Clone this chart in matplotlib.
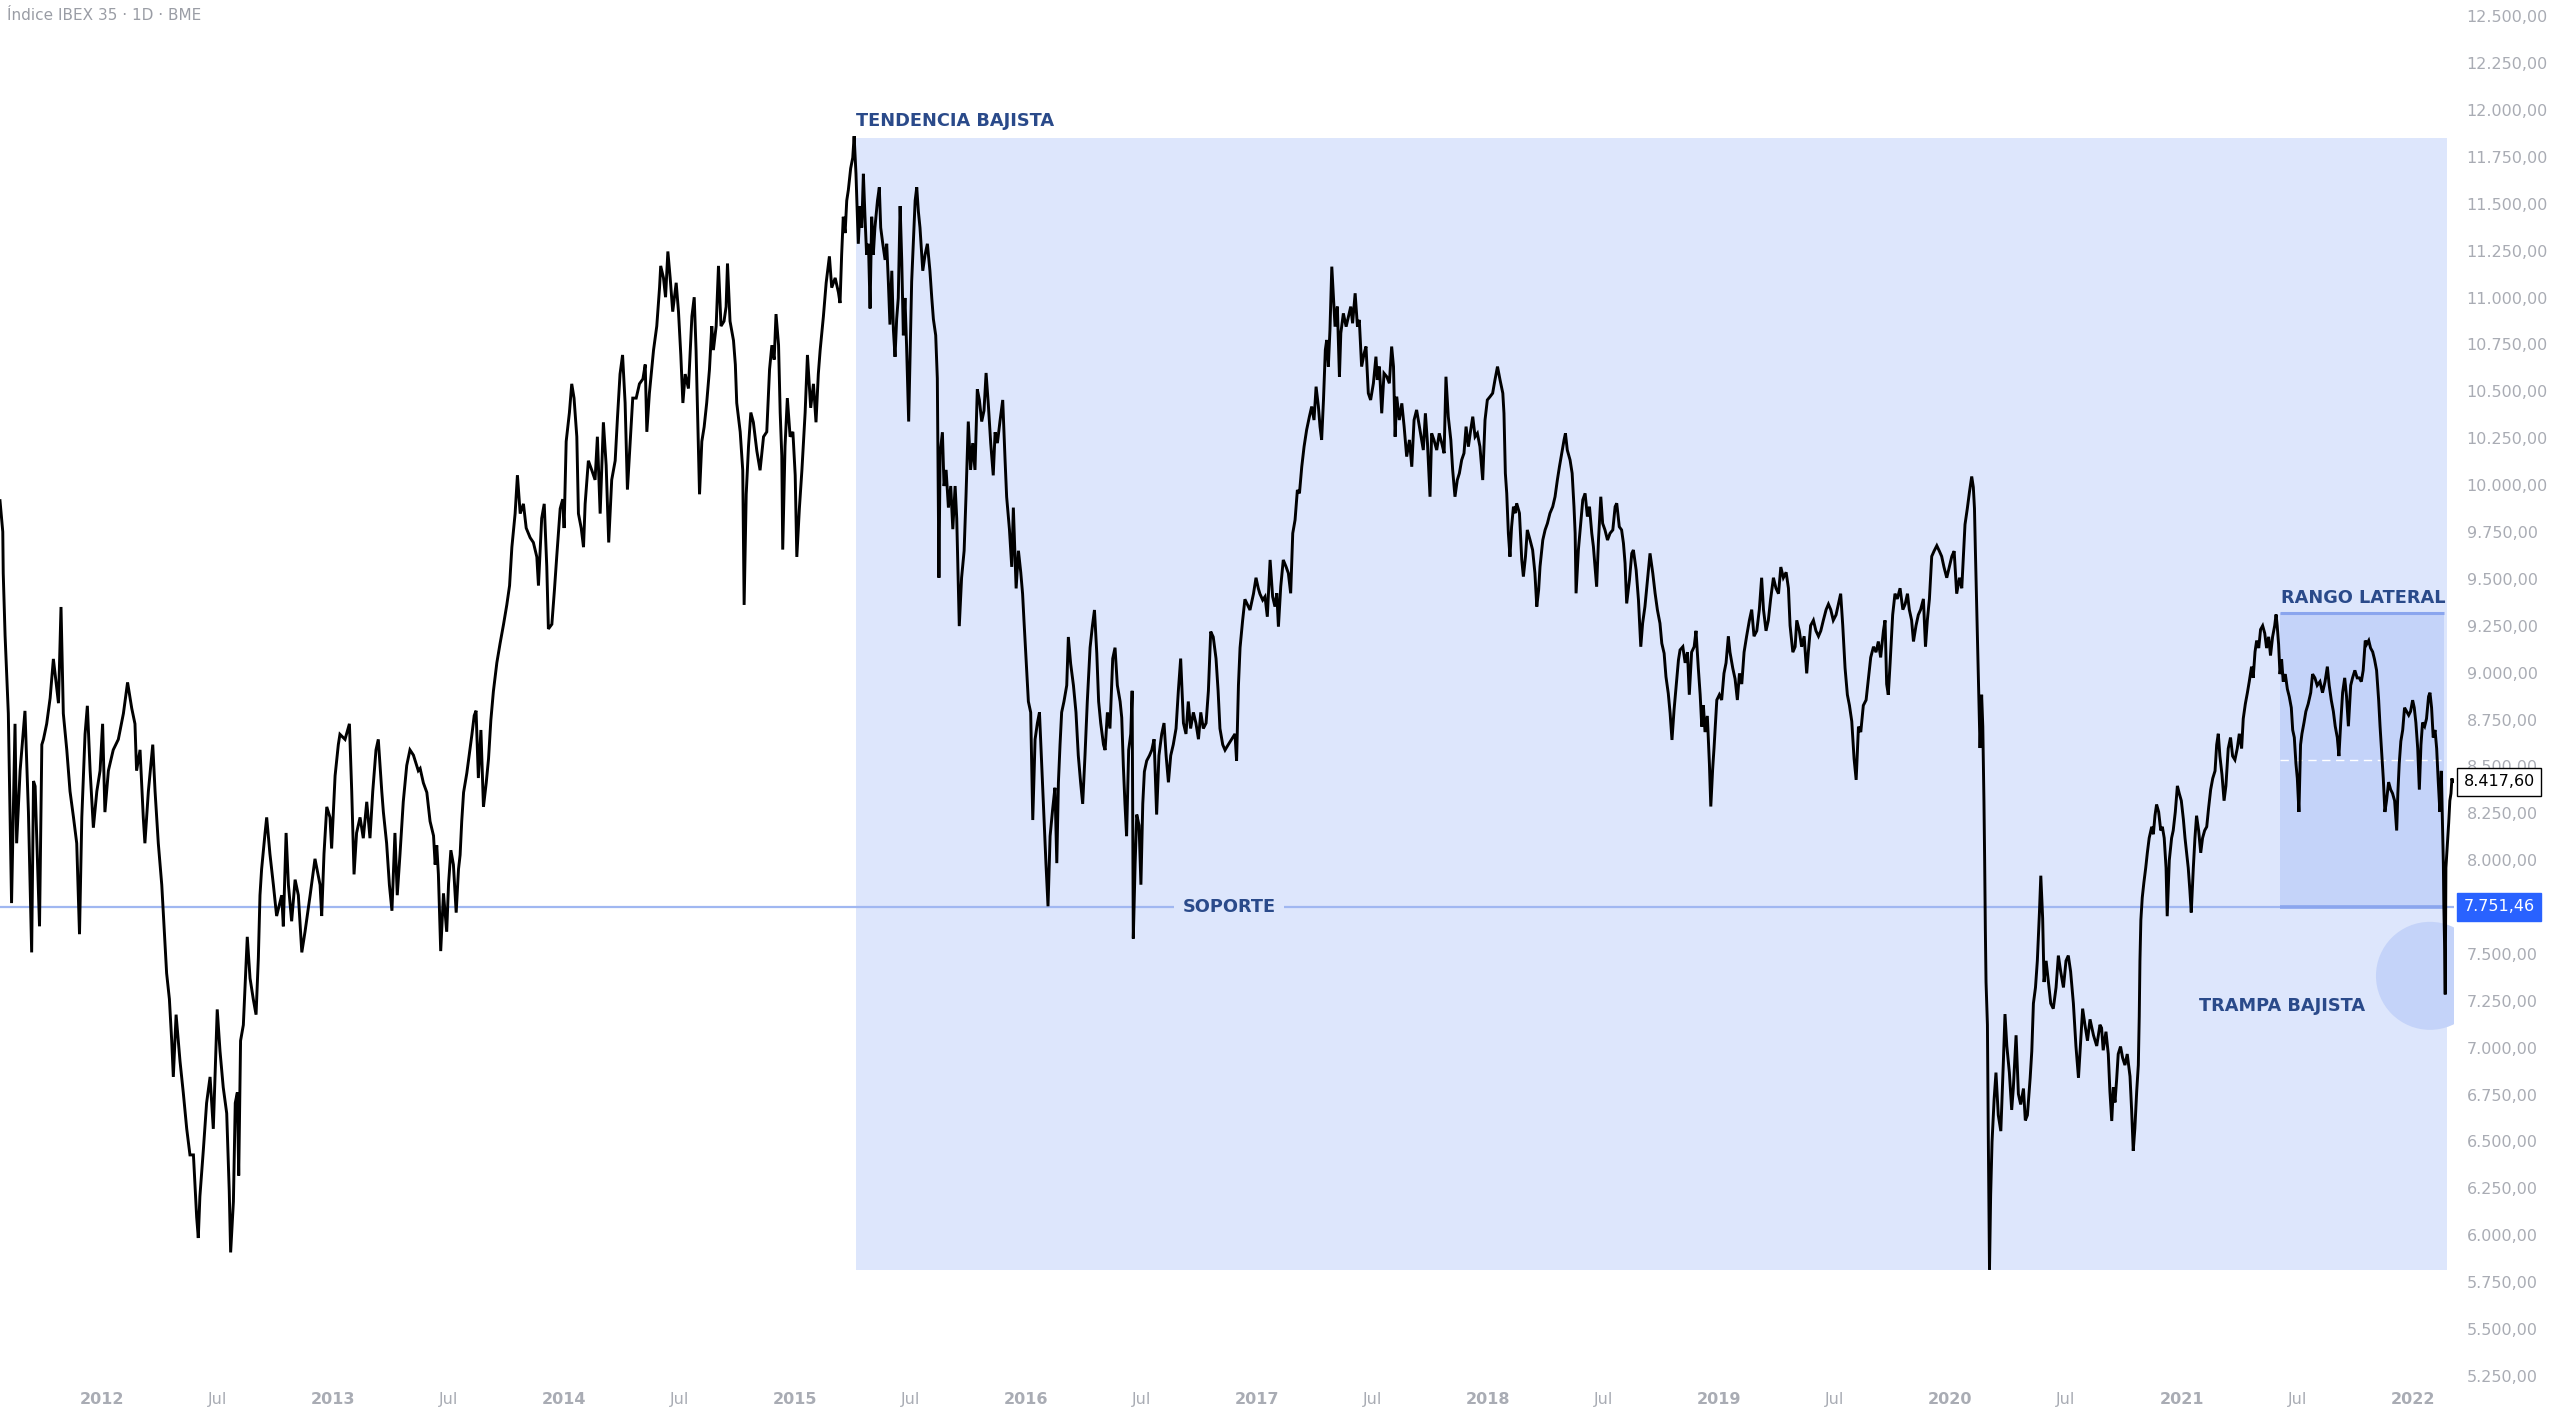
"""IBEX 35 daily chart (2011-2022) with bearish trend box, support and lateral range."""
import matplotlib
matplotlib.use("Agg")
import matplotlib.pyplot as plt
from matplotlib.patches import Rectangle, Ellipse
from matplotlib.ticker import FixedLocator, FixedFormatter

# --------------------------------------------------------------------------- #
# Data (decimal year, index level)
# --------------------------------------------------------------------------- #
years_2011_13 = [
    2011.560, 2011.572, 2011.574, 2011.582, 2011.596, 2011.610, 2011.625, 2011.632, 2011.647, 2011.668,
    2011.683, 2011.697, 2011.705, 2011.712, 2011.731, 2011.741, 2011.748, 2011.762, 2011.777, 2011.791,
    2011.813, 2011.824, 2011.834, 2011.849, 2011.863, 2011.878, 2011.892, 2011.904, 2011.914, 2011.928,
    2011.938, 2011.950, 2011.964, 2011.979, 2011.993, 2012.004, 2012.014, 2012.029, 2012.050, 2012.072,
    2012.094, 2012.112, 2012.130, 2012.144, 2012.151, 2012.166, 2012.180, 2012.187, 2012.202, 2012.221,
    2012.231, 2012.245, 2012.260, 2012.270, 2012.281, 2012.293, 2012.303, 2012.310, 2012.322, 2012.339,
    2012.353, 2012.368, 2012.382, 2012.397, 2012.411, 2012.418, 2012.425, 2012.440, 2012.454, 2012.469,
    2012.483, 2012.500, 2012.512, 2012.526, 2012.541, 2012.552, 2012.558, 2012.570, 2012.578, 2012.587,
    2012.593, 2012.601, 2012.613, 2012.630, 2012.642, 2012.656, 2012.668, 2012.678, 2012.685, 2012.692,
    2012.707, 2012.714, 2012.728, 2012.743, 2012.757, 2012.779, 2012.786, 2012.798, 2012.808, 2012.822,
    2012.837, 2012.851, 2012.866, 2012.880, 2012.902, 2012.923, 2012.945, 2012.952, 2012.962, 2012.974,
    2012.988, 2012.995, 2013.010, 2013.024, 2013.031, 2013.053, 2013.072, 2013.082, 2013.092, 2013.103,
    2013.118, 2013.132, 2013.147, 2013.161, 2013.173, 2013.187, 2013.197, 2013.212, 2013.219, 2013.233,
    2013.245, 2013.256, 2013.269, 2013.279, 2013.291, 2013.305, 2013.320, 2013.334, 2013.349, 2013.370,
    2013.378,
]
close_2011_13 = [
    9917, 9751, 9530, 9197, 8782, 7771, 8727, 8090, 8477, 8796,
    8256, 7508, 8422, 8394, 7647, 8616, 8644, 8727, 8865, 9073,
    8837, 9350, 8782, 8588, 8367, 8228, 8090, 7605, 8228, 8671,
    8823, 8477, 8173, 8367, 8477, 8727, 8256, 8477, 8588, 8644,
    8782, 8948, 8810, 8727, 8477, 8588, 8228, 8090, 8367, 8616,
    8367, 8090, 7868, 7647, 7397, 7259, 7037, 6844, 7176, 6927,
    6761, 6567, 6428, 6428, 6096, 5985, 6207, 6456, 6705, 6844,
    6567, 7204, 6982, 6788, 6650, 6235, 5908, 6179, 6705, 6761,
    6318, 7037, 7121, 7591, 7370, 7259, 7176, 7480, 7813, 7951,
    8145, 8228, 8034, 7868, 7702, 7813, 7647, 8145, 7868, 7674,
    7896, 7813, 7508, 7619, 7813, 8007, 7868, 7702, 8034, 8284,
    8228, 8062, 8450, 8616, 8671, 8644, 8727, 8367, 7924, 8145,
    8228, 8117, 8311, 8117, 8367, 8588, 8644, 8367, 8256, 8090,
    7868, 7730, 8145, 7813, 8034, 8311, 8505, 8588, 8560, 8477,
    8489,
]

years_2013_15 = [
    2013.392, 2013.407, 2013.421, 2013.436, 2013.443, 2013.450, 2013.457, 2013.467, 2013.479, 2013.493,
    2013.501, 2013.511, 2013.522, 2013.534, 2013.544, 2013.551, 2013.558, 2013.566, 2013.580, 2013.591,
    2013.602, 2013.612, 2013.620, 2013.630, 2013.641, 2013.652, 2013.664, 2013.674, 2013.684, 2013.695,
    2013.710, 2013.724, 2013.739, 2013.753, 2013.765, 2013.775, 2013.789, 2013.799, 2013.811, 2013.825,
    2013.837, 2013.854, 2013.868, 2013.883, 2013.890, 2013.904, 2013.915, 2013.926, 2013.933, 2013.948,
    2013.959, 2013.969, 2013.984, 2013.995, 2014.001, 2014.010, 2014.024, 2014.034, 2014.044, 2014.056,
    2014.063, 2014.075, 2014.085, 2014.092, 2014.106, 2014.121, 2014.135, 2014.145, 2014.157, 2014.171,
    2014.183, 2014.194, 2014.207, 2014.222, 2014.232, 2014.243, 2014.254, 2014.265, 2014.275, 2014.287,
    2014.298, 2014.313, 2014.327, 2014.342, 2014.352, 2014.359, 2014.370, 2014.388, 2014.402, 2014.414,
    2014.419, 2014.431, 2014.440, 2014.450, 2014.460, 2014.471, 2014.486, 2014.496, 2014.506, 2014.515,
    2014.525, 2014.539, 2014.554, 2014.564, 2014.572, 2014.587, 2014.597, 2014.607, 2014.618, 2014.630,
    2014.640, 2014.647, 2014.659, 2014.669, 2014.680, 2014.693, 2014.702, 2014.708, 2014.719, 2014.734,
    2014.742, 2014.748, 2014.763, 2014.774, 2014.780, 2014.789, 2014.799, 2014.809, 2014.820, 2014.835,
    2014.849, 2014.864, 2014.878, 2014.890, 2014.900, 2014.910, 2014.918, 2014.929, 2014.936, 2014.943,
    2014.947, 2014.957, 2014.967, 2014.979, 2014.991, 2015.001, 2015.008, 2015.019, 2015.030, 2015.044,
    2015.054, 2015.068, 2015.080, 2015.091, 2015.101, 2015.109, 2015.123, 2015.135, 2015.149, 2015.159,
    2015.174, 2015.188,
]
close_2013_15 = [
    8412, 8361, 8207, 8130, 7976, 8079, 7925, 7515, 7823, 7618,
    7874, 8053, 7976, 7720, 7951, 8028, 8207, 8361, 8464, 8566,
    8669, 8771, 8797, 8438, 8694, 8284, 8412, 8541, 8746, 8900,
    9053, 9156, 9258, 9361, 9464, 9669, 9848, 10053, 9848, 9900,
    9771, 9720, 9694, 9617, 9464, 9823, 9900, 9566, 9233, 9258,
    9438, 9617, 9874, 9925, 9771, 10233, 10387, 10540, 10464, 10258,
    9848, 9771, 9669, 9900, 10130, 10079, 10028, 10258, 9848, 10335,
    10105, 9694, 10028, 10130, 10361, 10592, 10694, 10438, 9976, 10233,
    10464, 10464, 10540, 10566, 10643, 10284, 10489, 10720, 10848, 11053,
    11169, 11105, 11002, 11246, 11105, 10925, 11079, 10925, 10694, 10438,
    10592, 10515, 10900, 11002, 10720, 9951, 10233, 10310, 10438, 10617,
    10848, 10720, 10848, 11169, 10848, 10874, 10951, 11182, 10874, 10771,
    10643, 10438, 10284, 10079, 9361, 9951, 10207, 10387, 10335, 10182,
    10079, 10258, 10284, 10617, 10746, 10669, 10912, 10746, 10387, 10156,
    9656, 10207, 10464, 10258, 10284, 10053, 9617, 9874, 10079, 10387,
    10694, 10412, 10540, 10335, 10592, 10720, 10899, 11079, 11220, 11053,
    11105, 11028,
]

years_2015_17 = [
    2015.195, 2015.202, 2015.209, 2015.217, 2015.224, 2015.231, 2015.241, 2015.250, 2015.256, 2015.264,
    2015.274, 2015.282, 2015.289, 2015.296, 2015.303, 2015.310, 2015.318, 2015.325, 2015.332, 2015.339,
    2015.346, 2015.357, 2015.365, 2015.371, 2015.380, 2015.390, 2015.397, 2015.404, 2015.411, 2015.419,
    2015.426, 2015.433, 2015.440, 2015.447, 2015.455, 2015.462, 2015.469, 2015.476, 2015.483, 2015.492,
    2015.501, 2015.505, 2015.512, 2015.520, 2015.527, 2015.534, 2015.541, 2015.553, 2015.563, 2015.573,
    2015.584, 2015.592, 2015.599, 2015.609, 2015.616, 2015.623, 2015.628, 2015.638, 2015.645, 2015.654,
    2015.664, 2015.674, 2015.683, 2015.693, 2015.700, 2015.711, 2015.721, 2015.732, 2015.740, 2015.750,
    2015.760, 2015.769, 2015.779, 2015.789, 2015.798, 2015.808, 2015.818, 2015.827, 2015.837, 2015.847,
    2015.858, 2015.866, 2015.876, 2015.887, 2015.899, 2015.909, 2015.916, 2015.928, 2015.938, 2015.945,
    2015.957, 2015.967, 2015.977, 2015.985, 2015.991, 2016.000, 2016.010, 2016.020, 2016.029, 2016.039,
    2016.049, 2016.058, 2016.068, 2016.078, 2016.086, 2016.095, 2016.104, 2016.115, 2016.125, 2016.133,
    2016.140, 2016.147, 2016.154, 2016.164, 2016.176, 2016.183, 2016.193, 2016.205, 2016.216, 2016.226,
    2016.236, 2016.245, 2016.255, 2016.265, 2016.277, 2016.287, 2016.296, 2016.306, 2016.314, 2016.323,
    2016.335, 2016.342, 2016.352, 2016.363, 2016.375, 2016.385, 2016.395, 2016.407, 2016.414, 2016.421,
    2016.428, 2016.435, 2016.444, 2016.453, 2016.459, 2016.464, 2016.472, 2016.479, 2016.489, 2016.497,
    2016.505, 2016.512, 2016.522, 2016.534, 2016.544, 2016.554, 2016.565, 2016.575, 2016.587, 2016.597,
    2016.606, 2016.616, 2016.626, 2016.637, 2016.649, 2016.659, 2016.669, 2016.681, 2016.692, 2016.702,
    2016.712, 2016.724, 2016.735, 2016.746, 2016.756, 2016.767, 2016.779, 2016.789, 2016.799, 2016.810,
    2016.822, 2016.831, 2016.839, 2016.851, 2016.861, 2016.875, 2016.890, 2016.904, 2016.911, 2016.919,
    2016.926, 2016.937, 2016.947, 2016.958, 2016.969, 2016.984, 2016.995, 2017.005, 2017.012,
]
close_2015_17 = [
    10971, 11229, 11431, 11344, 11517, 11574, 11689, 11746, 11861, 11660,
    11287, 11488, 11373, 11660, 11431, 11229, 11287, 10942, 11431, 11229,
    11373, 11517, 11588, 11373, 11287, 11201, 11287, 11086, 10856, 11143,
    10827, 10684, 10885, 10998, 11488, 11201, 10799, 10998, 10741, 10339,
    10856, 11086, 11287, 11517, 11588, 11459, 11373, 11143, 11229, 11287,
    11143, 10998, 10885, 10799, 10569, 9506, 10167, 10282, 9995, 10081,
    9880, 9995, 9765, 9995, 9822, 9248, 9506, 9650, 9937, 10339,
    10081, 10224, 10081, 10511, 10454, 10339, 10397, 10598, 10425, 10224,
    10052, 10282, 10224, 10339, 10454, 10138, 9937, 9765, 9564, 9880,
    9449, 9650, 9535, 9420, 9277, 9075, 8846, 8788, 8214, 8644,
    8731, 8788, 8501, 8214, 7984, 7754, 8128, 8271, 8386, 7984,
    8415, 8616, 8788, 8846, 8932, 9190, 9047, 8932, 8788, 8558,
    8415, 8300, 8558, 8846, 9133, 9248, 9334, 9104, 8846, 8731,
    8616, 8587, 8788, 8702, 9075, 9133, 8932, 8846, 8760, 8501,
    8300, 8128, 8587, 8673, 8903, 7582, 7984, 8243, 8185, 7869,
    8300, 8472, 8530, 8558, 8587, 8645, 8243, 8558, 8673, 8731,
    8558, 8415, 8558, 8616, 8702, 8903, 9075, 8731, 8673, 8846,
    8702, 8788, 8731, 8645, 8788, 8702, 8731, 8903, 9219, 9190,
    9075, 8903, 8702, 8616, 8587, 8616, 8645, 8673, 8530, 8932,
    9133, 9277, 9391, 9363, 9334, 9420, 9506, 9449, 9420,
]

years_2017_18 = [
    2017.024, 2017.034, 2017.044, 2017.056, 2017.067, 2017.077, 2017.085, 2017.092, 2017.102, 2017.113,
    2017.125, 2017.135, 2017.145, 2017.154, 2017.164, 2017.174, 2017.183, 2017.193, 2017.203, 2017.214,
    2017.226, 2017.236, 2017.246, 2017.255, 2017.265, 2017.272, 2017.279, 2017.287, 2017.295, 2017.301,
    2017.308, 2017.315, 2017.323, 2017.330, 2017.337, 2017.347, 2017.356, 2017.362, 2017.373, 2017.385,
    2017.395, 2017.405, 2017.413, 2017.424, 2017.434, 2017.442, 2017.452, 2017.463, 2017.471, 2017.481,
    2017.491, 2017.503, 2017.514, 2017.520, 2017.529, 2017.539, 2017.549, 2017.561, 2017.572, 2017.582,
    2017.590, 2017.597, 2017.604, 2017.615, 2017.626, 2017.636, 2017.647, 2017.659, 2017.669, 2017.679,
    2017.690, 2017.702, 2017.712, 2017.719, 2017.728, 2017.737, 2017.748, 2017.755, 2017.765, 2017.777,
    2017.788, 2017.799, 2017.809, 2017.817, 2017.827, 2017.838, 2017.846, 2017.856, 2017.866, 2017.875,
    2017.885, 2017.895, 2017.904, 2017.914, 2017.924, 2017.933, 2017.943, 2017.953, 2017.964, 2017.976,
    2017.986, 2017.996, 2018.008, 2018.019, 2018.029, 2018.040, 2018.051, 2018.063, 2018.068, 2018.074,
    2018.080, 2018.087, 2018.094, 2018.101, 2018.109, 2018.116, 2018.123, 2018.135, 2018.145, 2018.152,
    2018.161, 2018.169, 2018.181, 2018.192, 2018.202, 2018.210, 2018.218, 2018.224, 2018.236, 2018.246,
    2018.256, 2018.267, 2018.279, 2018.289, 2018.299, 2018.308, 2018.318, 2018.328, 2018.334, 2018.342,
    2018.354, 2018.363, 2018.371, 2018.376, 2018.380, 2018.390, 2018.400, 2018.409, 2018.419, 2018.429,
    2018.438, 2018.448, 2018.455, 2018.462, 2018.469, 2018.477, 2018.487, 2018.495, 2018.505, 2018.516,
    2018.527, 2018.539, 2018.549, 2018.556, 2018.567, 2018.577, 2018.585, 2018.592, 2018.599, 2018.611,
    2018.621, 2018.628, 2018.640, 2018.650, 2018.660, 2018.668, 2018.678, 2018.689, 2018.700, 2018.712,
    2018.722, 2018.732, 2018.743, 2018.751, 2018.761, 2018.769, 2018.779, 2018.787, 2018.795, 2018.804,
    2018.813, 2018.823, 2018.830,
]
close_2017_18 = [
    9387, 9405, 9298, 9601, 9405, 9352, 9423, 9245, 9458, 9601,
    9565, 9530, 9423, 9743, 9814, 9974, 9956, 10098, 10205, 10294,
    10365, 10419, 10347, 10525, 10419, 10312, 10241, 10454, 10721, 10774,
    10632, 10827, 11165, 11005, 10845, 10952, 10578, 10810, 10916, 10845,
    10899, 10952, 10863, 11023, 10845, 10881, 10632, 10703, 10739, 10490,
    10454, 10543, 10685, 10561, 10632, 10383, 10596, 10578, 10543, 10739,
    10632, 10258, 10472, 10347, 10436, 10312, 10152, 10241, 10098, 10347,
    10401, 10312, 10241, 10187, 10383, 10223, 9938, 10276, 10241, 10187,
    10276, 10223, 10170, 10578, 10365, 10241, 10081, 9938, 10027, 10063,
    10134, 10170, 10312, 10205, 10294, 10365, 10258, 10276, 10205, 10027,
    10347, 10454, 10472, 10490, 10561, 10632, 10561, 10490, 10383, 10063,
    9956, 9743, 9618, 9778, 9885, 9850, 9903, 9850, 9601, 9512,
    9618, 9761, 9707, 9654, 9530, 9352, 9441, 9565, 9707, 9761,
    9796, 9850, 9885, 9938, 10027, 10098, 10170, 10241, 10276, 10187,
    10134, 10063, 9885, 9743, 9423, 9654, 9796, 9921, 9956, 9832,
    9885, 9743, 9672, 9565, 9458, 9707, 9938, 9796, 9761, 9707,
    9743, 9761, 9885, 9903, 9778, 9761, 9690, 9583, 9369, 9494,
    9636, 9654, 9547, 9387, 9138, 9263, 9352, 9494, 9636, 9530,
    9423, 9334, 9263, 9156, 9103, 8978, 8889, 8783, 8641, 8801,
    8925, 9067, 9121,
]

years_2018_20 = [
    2018.842, 2018.852, 2018.862, 2018.870, 2018.880, 2018.891, 2018.899, 2018.909, 2018.917, 2018.924,
    2018.931, 2018.938, 2018.948, 2018.957, 2018.963, 2018.971, 2018.977, 2018.989, 2019.000, 2019.010,
    2019.020, 2019.029, 2019.039, 2019.046, 2019.058, 2019.068, 2019.078, 2019.087, 2019.097, 2019.107,
    2019.118, 2019.130, 2019.140, 2019.150, 2019.162, 2019.173, 2019.183, 2019.191, 2019.202, 2019.212,
    2019.222, 2019.234, 2019.245, 2019.256, 2019.266, 2019.277, 2019.289, 2019.299, 2019.306, 2019.318,
    2019.328, 2019.335, 2019.346, 2019.356, 2019.367, 2019.378, 2019.385, 2019.395, 2019.407, 2019.418,
    2019.429, 2019.439, 2019.450, 2019.462, 2019.472, 2019.482, 2019.493, 2019.505, 2019.515, 2019.525,
    2019.534, 2019.544, 2019.554, 2019.563, 2019.573, 2019.583, 2019.592, 2019.602, 2019.612, 2019.623,
    2019.635, 2019.645, 2019.655, 2019.667, 2019.678, 2019.688, 2019.698, 2019.710, 2019.717, 2019.724,
    2019.731, 2019.739, 2019.750, 2019.760, 2019.770, 2019.782, 2019.794, 2019.804, 2019.814, 2019.822,
    2019.832, 2019.840, 2019.851, 2019.861, 2019.871, 2019.883, 2019.892, 2019.900, 2019.909, 2019.919,
    2019.929, 2019.941, 2019.952, 2019.962, 2019.972, 2019.984, 2019.995, 2020.006, 2020.016, 2020.027,
    2020.039, 2020.049, 2020.056, 2020.063, 2020.073, 2020.082, 2020.092, 2020.099, 2020.104, 2020.108,
    2020.114, 2020.121, 2020.128, 2020.135, 2020.140, 2020.145, 2020.148, 2020.151, 2020.154, 2020.160,
    2020.164, 2020.169, 2020.174, 2020.180, 2020.189, 2020.197, 2020.207, 2020.218, 2020.229, 2020.236,
    2020.244, 2020.255, 2020.265, 2020.272, 2020.284, 2020.294, 2020.304, 2020.316, 2020.324, 2020.333,
    2020.345, 2020.352, 2020.359, 2020.368, 2020.376, 2020.385, 2020.391, 2020.399, 2020.405, 2020.414,
    2020.424, 2020.434, 2020.445, 2020.457, 2020.467, 2020.477, 2020.489, 2020.500, 2020.510, 2020.520,
    2020.532, 2020.543, 2020.554, 2020.561, 2020.572, 2020.582, 2020.593, 2020.604, 2020.619, 2020.633,
    2020.647,
]
close_2018_20 = [
    9138, 9052, 9109, 8882, 9109, 9138, 9223, 9024, 8882, 8712,
    8825, 8683, 8769, 8513, 8286, 8485, 8598, 8854, 8882, 8854,
    8996, 9052, 9194, 9109, 9024, 8967, 8854, 8996, 8939, 9109,
    9194, 9279, 9336, 9194, 9223, 9336, 9506, 9336, 9223, 9279,
    9393, 9506, 9450, 9421, 9563, 9506, 9535, 9450, 9251, 9109,
    9138, 9279, 9223, 9138, 9194, 8996, 9109, 9251, 9279, 9223,
    9194, 9223, 9279, 9336, 9365, 9336, 9279, 9308, 9365, 9421,
    9251, 9024, 8882, 8825, 8740, 8541, 8428, 8712, 8683, 8825,
    8854, 8967, 9081, 9138, 9109, 9166, 9081, 9223, 9279, 8939,
    8882, 9052, 9308, 9421, 9393, 9450, 9336, 9365, 9421, 9336,
    9279, 9166, 9251, 9308, 9336, 9393, 9138, 9279, 9393, 9620,
    9648, 9677, 9648, 9620, 9563, 9506, 9563, 9620, 9648, 9421,
    9506, 9450, 9620, 9790, 9875, 9961, 10046, 9989, 9875, 9648,
    9336, 8996, 8598, 8882, 8712, 8314, 8002, 7633, 7350, 7122,
    6498, 5817, 6214, 6498, 6725, 6867, 6640, 6555, 6924, 7179,
    7009, 6867, 6668, 6782, 7066, 6753, 6697, 6782, 6612, 6640,
    6839, 6981, 7236, 7321, 7463, 7718, 7917, 7690, 7350, 7463,
    7350, 7236, 7208, 7321, 7491, 7406, 7321, 7463, 7491, 7406,
    7236, 7009, 6839, 6981, 7208, 7122, 7037, 7151, 7066, 7009,
    7122,
]

years_2020_22 = [
    2020.654, 2020.661, 2020.673, 2020.683, 2020.690, 2020.698, 2020.705, 2020.712, 2020.719, 2020.726,
    2020.736, 2020.745, 2020.755, 2020.765, 2020.777, 2020.784, 2020.791, 2020.798, 2020.806, 2020.813,
    2020.817, 2020.820, 2020.824, 2020.830, 2020.837, 2020.845, 2020.852, 2020.860, 2020.871, 2020.878,
    2020.885, 2020.892, 2020.901, 2020.910, 2020.917, 2020.925, 2020.933, 2020.938, 2020.947, 2020.957,
    2020.964, 2020.973, 2020.982, 2020.990, 2020.999, 2021.008, 2021.015, 2021.022, 2021.029, 2021.036,
    2021.042, 2021.051, 2021.058, 2021.065, 2021.074, 2021.083, 2021.091, 2021.100, 2021.109, 2021.117,
    2021.126, 2021.135, 2021.145, 2021.152, 2021.159, 2021.166, 2021.175, 2021.184, 2021.192, 2021.202,
    2021.212, 2021.221, 2021.231, 2021.241, 2021.250, 2021.260, 2021.267, 2021.276, 2021.285, 2021.293,
    2021.303, 2021.310, 2021.318, 2021.325, 2021.334, 2021.342, 2021.351, 2021.360, 2021.368, 2021.377,
    2021.385, 2021.394, 2021.403, 2021.409, 2021.414, 2021.420, 2021.426, 2021.433, 2021.440, 2021.449,
    2021.458, 2021.466, 2021.475, 2021.481, 2021.488, 2021.495, 2021.501, 2021.508, 2021.515, 2021.521,
    2021.530, 2021.538, 2021.548, 2021.559, 2021.567, 2021.577, 2021.587, 2021.599, 2021.610, 2021.621,
    2021.631, 2021.639, 2021.648, 2021.657, 2021.665, 2021.674, 2021.681, 2021.688, 2021.697, 2021.706,
    2021.714, 2021.722, 2021.732, 2021.740, 2021.750, 2021.760, 2021.769, 2021.778, 2021.786, 2021.795,
    2021.801, 2021.810, 2021.818, 2021.827, 2021.835, 2021.844, 2021.853, 2021.859, 2021.866, 2021.873,
    2021.880, 2021.887, 2021.896, 2021.905, 2021.913, 2021.922, 2021.931, 2021.936, 2021.942, 2021.949,
    2021.957, 2021.965, 2021.974, 2021.983, 2021.991, 2022.000, 2022.007, 2022.014, 2022.022, 2022.029,
    2022.036, 2022.043, 2022.052, 2022.060, 2022.069, 2022.075, 2022.082, 2022.089, 2022.097, 2022.104,
    2022.111, 2022.118, 2022.124, 2022.130, 2022.133, 2022.135, 2022.138, 2022.141, 2022.144, 2022.150,
    2022.156, 2022.161, 2022.166, 2022.170, 2022.173,
]
close_2020_22 = [
    7105, 6986, 7085, 6966, 6768, 6609, 6788, 6708, 6827, 6966,
    7006, 6946, 6907, 6966, 6847, 6668, 6450, 6569, 6768, 6907,
    7165, 7463, 7681, 7800, 7880, 7959, 8039, 8118, 8178, 8138,
    8237, 8297, 8257, 8158, 8178, 8118, 7959, 7701, 7999, 8118,
    8158, 8257, 8396, 8356, 8317, 8217, 8118, 8039, 7959, 7840,
    7721, 7959, 8118, 8237, 8158, 8039, 8118, 8158, 8178, 8277,
    8376, 8436, 8476, 8615, 8674, 8555, 8456, 8317, 8396, 8595,
    8654, 8555, 8535, 8595, 8674, 8595, 8754, 8833, 8893, 8952,
    9032, 8972, 9111, 9171, 9131, 9230, 9250, 9210, 9131, 9191,
    9091, 9191, 9250, 9310, 9250, 9151, 8992, 9071, 8952, 8992,
    8912, 8873, 8813, 8694, 8654, 8515, 8436, 8257, 8615, 8674,
    8734, 8793, 8833, 8893, 8992, 8972, 8932, 8952, 8893, 8952,
    9032, 8932, 8853, 8793, 8714, 8654, 8555, 8714, 8893, 8972,
    8873, 8714, 8932, 8972, 9012, 8972, 8972, 8952, 9012, 9171,
    9151, 9171, 9131, 9111, 9071, 9012, 8853, 8714, 8575, 8436,
    8257, 8317, 8416, 8376, 8356, 8317, 8158, 8356, 8515, 8634,
    8694, 8813, 8793, 8773, 8793, 8853, 8813, 8734, 8595, 8376,
    8615, 8734, 8714, 8754, 8873, 8893, 8813, 8654, 8694, 8595,
    8416, 8257, 8476, 8158, 7979, 7761, 7562, 7284, 7959, 8078,
    8198, 8317, 8356, 8436, 8418,
]

# axes ticks
price_ticks = [5250, 5500, 5750, 6000, 6250, 6500, 6750, 7000, 7250, 7500, 7750, 8000, 8250,
               8500, 8750, 9000, 9250, 9500, 9750, 10000, 10250, 10500, 10750, 11000, 11250,
               11500, 11750, 12000, 12250, 12500]
time_ticks = [2012.0, 2012.5, 2013.0, 2013.5, 2014.0, 2014.5, 2015.0, 2015.5, 2016.0, 2016.5,
              2017.0, 2017.5, 2018.0, 2018.5, 2019.0, 2019.5, 2020.0, 2020.5, 2021.0, 2021.5, 2022.0]
time_labels = ["2012", "Jul", "2013", "Jul", "2014", "Jul", "2015", "Jul", "2016", "Jul",
               "2017", "Jul", "2018", "Jul", "2019", "Jul", "2020", "Jul", "2021", "Jul", "2022"]

# drawings
trend_box = (2015.264, 2022.150, 5815, 11850)      # x0, x1, y0, y1
range_box = (2021.426, 2022.137, 7751.46, 9320)
support_level = 7751.46
last_price = 8417.60
trap_center = (2022.075, 7383)

# --------------------------------------------------------------------------- #
# Styling
# --------------------------------------------------------------------------- #
NAVY = "#2a4a8a"
TREND_FILL = "#dde6fc"
RANGE_FILL = "#c4d3f9"
SUPPORT_BLUE = "#a0b7f1"
EDGE_BLUE = "#8aa5ee"
AXIS_GREY = "#a9acb4"


def es_number(v: float) -> str:
    """12500 -> '12.500,00' (Spanish thousands / decimal separators)."""
    s = f"{v:,.2f}"
    return s.replace(",", "X").replace(".", ",").replace("X", ".")


W, H, DPI = 2560, 1414, 100
fig = plt.figure(figsize=(W / DPI, H / DPI), dpi=DPI, facecolor="white")
ax = fig.add_axes([0.0, 26 / H, 2454 / W, 1 - 26 / H])
ax.set_facecolor("white")
ax.set_xlim(2011.560, 2022.179)
ax.set_ylim(5185, 12587)
for s in ax.spines.values():
    s.set_visible(False)

# bearish-trend box and lateral range
x0, x1, y0, y1 = trend_box
ax.add_patch(Rectangle((x0, y0), x1 - x0, y1 - y0, facecolor=TREND_FILL,
                       edgecolor="none", zorder=1))
rx0, rx1, ry0, ry1 = range_box
ax.add_patch(Rectangle((rx0, ry0), rx1 - rx0, ry1 - ry0, facecolor=RANGE_FILL,
                       edgecolor="none", zorder=1.2))
ax.plot([rx0, rx1], [ry1, ry1], color=EDGE_BLUE, lw=2.2, zorder=1.3,
        solid_capstyle="butt")
ax.plot([rx0, rx1], [ry0, ry0], color=EDGE_BLUE, lw=2.6, zorder=1.3,
        solid_capstyle="butt")
ax.plot([rx0, rx1], [(ry0 + ry1) / 2] * 2, color="white", lw=1.0,
        ls=(0, (6, 4)), zorder=1.3)

# support line
ax.axhline(support_level, color=SUPPORT_BLUE, lw=1.6, zorder=1.25)

# bear-trap circle: sized in pixels so it stays round
fig.canvas.draw()
px_per_x = ax.transData.transform((1, 0))[0] - ax.transData.transform((0, 0))[0]
px_per_y = ax.transData.transform((0, 1))[1] - ax.transData.transform((0, 0))[1]
radius_px = 54
ax.add_patch(Ellipse(trap_center, 2 * radius_px / px_per_x, 2 * radius_px / px_per_y,
                     facecolor=RANGE_FILL, edgecolor="none", zorder=1.4))

# price path (segments joined end to end)
segments = [(years_2011_13, close_2011_13), (years_2013_15, close_2013_15),
            (years_2015_17, close_2015_17), (years_2017_18, close_2017_18),
            (years_2018_20, close_2018_20), (years_2020_22, close_2020_22)]
path_x = [x for xs, _ in segments for x in xs]
path_y = [y for _, ys in segments for y in ys]
ax.plot(path_x, path_y, color="black", lw=2.1, zorder=3, solid_joinstyle="miter")

# annotations
label_kw = dict(color=NAVY, fontweight="bold", fontsize=12.8, zorder=4)
ax.text(x0, 11942, "TENDENCIA BAJISTA", ha="left", va="center", **label_kw)
ax.text(rx0 + 0.003, 9400, "RANGO LATERAL", ha="left", va="center", **label_kw)
ax.text(2021.433, 7224, "TRAMPA BAJISTA", ha="center", va="center", **label_kw)
ax.text(2016.878, support_level, "SOPORTE", ha="center", va="center",
        bbox=dict(boxstyle="square,pad=0.5", facecolor=TREND_FILL, edgecolor="none"),
        **label_kw)

# axes: price scale on the right, time scale below
ax.yaxis.tick_right()
ax.yaxis.set_major_locator(FixedLocator(price_ticks))
ax.set_yticklabels([es_number(v) for v in price_ticks])
ax.tick_params(axis="y", length=0, pad=9, labelsize=11.5, labelcolor=AXIS_GREY)
ax.xaxis.set_major_locator(FixedLocator(time_ticks))
ax.xaxis.set_major_formatter(FixedFormatter(time_labels))
ax.tick_params(axis="x", length=0, pad=3, labelsize=11.5, labelcolor=AXIS_GREY)
for lab in ax.get_xticklabels():
    if lab.get_text() != "Jul":
        lab.set_fontweight("bold")

# price-scale badges
yx = ax.get_yaxis_transform()
badge_kw = dict(xycoords=yx, xytext=(7, 0), textcoords="offset points", ha="left",
                va="center", fontsize=11.5, annotation_clip=False, zorder=6)
ax.annotate(es_number(last_price), xy=(1.0, last_price), color="black",
            bbox=dict(boxstyle="square,pad=0.4", facecolor="white",
                      edgecolor="black", lw=1.0), **badge_kw)
ax.annotate(es_number(support_level), xy=(1.0, support_level), color="white",
            bbox=dict(boxstyle="square,pad=0.4", facecolor="#2962ff",
                      edgecolor="#2962ff", lw=1.0), **badge_kw)

fig.text(0.0027, 1 - 16 / H, "Índice IBEX 35 · 1D · BME", color="#9a9da5",
         fontsize=11, ha="left", va="center")

fig.savefig("out.png", dpi=DPI, facecolor="white")
